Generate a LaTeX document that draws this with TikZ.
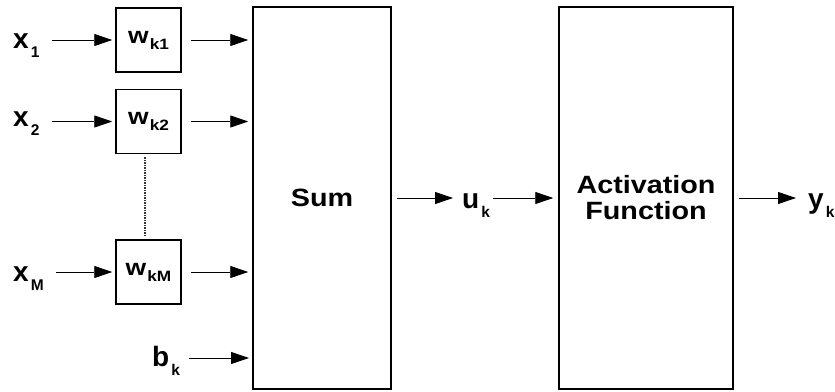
\documentclass[tikz,border=0pt]{standalone}
\usepackage{graphicx}
\usepackage{fontspec}
\setmainfont{Liberation Sans}
\usetikzlibrary{arrows.meta}

% box lettering is set slightly wide
\newcommand{\wide}[1]{\scalebox{1.15}[1]{#1}}
% signal name with a lowered index
\newcommand{\siglbl}[2]{\fontsize{28}{28}\selectfont\bfseries #1\kern2pt\raisebox{-9pt}{\fontsize{15.5}{15.5}\selectfont #2}}
% weight w_k with index
\newcommand{\wlbl}[1]{\wide{\fontsize{23}{23}\selectfont\bfseries w\kern1pt\raisebox{-6pt}{\fontsize{15}{15}\selectfont k#1}}}

\tikzset{
  wbox/.style={draw,line width=1.5pt,minimum width=65pt,minimum height=64pt,inner sep=0pt},
  bigbox/.style={draw,line width=1.5pt,minimum height=382pt,inner sep=0pt,align=center,
    font=\fontsize{25}{26}\selectfont\bfseries},
  sig/.style={inner sep=0pt,anchor=base west},
  arr/.style={-{Triangle[length=18pt,width=12pt]},line width=0.9pt},
}

\begin{document}
\begin{tikzpicture}[x=1pt,y=-1pt]
\useasboundingbox (0,0) rectangle (835,391);

% weights
\node[wbox] (w1) at (148.5,40) {\wlbl{1}};
\node[wbox] (w2) at (148.5,121.5) {\wlbl{2}};
\node[wbox] (wM) at (148.5,272) {\wlbl{M}};
\draw[line width=2pt,dash pattern=on 1.5pt off 1pt,black!80,shorten <=3pt,shorten >=3pt]
  ([xshift=-4pt]w2.south) -- ([xshift=-4pt]wM.north);

% summation and activation
\node[bigbox,minimum width=138pt] (sum) at (322,198) {\wide{Sum}};
\node[bigbox,minimum width=174pt] (act) at (646,198) {\wide{Activation}\\\wide{Function}};

% inputs
\node[sig] (x1) at (13,48) {\siglbl{x}{1}};
\node[sig] (x2) at (13,126) {\siglbl{x}{2}};
\node[sig] (xM) at (13,281) {\siglbl{x}{M}};
\node[sig] (b) at (152,366) {\siglbl{b}{k}};
\coordinate (bin) at (253,358);

\draw[arr,shorten <=12pt,shorten >=3pt] (x1.east |- w1) -- (w1.west);
\draw[arr,shorten <=12pt,shorten >=3pt] (x2.east |- w2) -- (w2.west);
\draw[arr,shorten <=12pt,shorten >=3pt] (xM.east |- wM) -- (wM.west);

\draw[arr,shorten <=9pt,shorten >=4pt] (w1.east) -- (w1.east -| sum.west);
\draw[arr,shorten <=9pt,shorten >=4pt] (w2.east) -- (w2.east -| sum.west);
\draw[arr,shorten <=9pt,shorten >=4pt] (wM.east) -- (wM.east -| sum.west);
\draw[arr,shorten <=9pt,shorten >=4pt] (b.east |- bin) -- (bin);

% outputs
\node[sig] (u) at (462,208) {\siglbl{u}{k}};
\node[sig] (y) at (808,208) {\siglbl{y}{k}};
\draw[arr,shorten <=5pt,shorten >=9pt] (sum.east) -- (u.west |- sum.east);
\draw[arr,shorten <=3pt,shorten >=5pt] (u.east |- act.west) -- (act.west);
\draw[arr,shorten <=5pt,shorten >=12pt] (act.east) -- (y.west |- act.east);
\end{tikzpicture}
\end{document}
